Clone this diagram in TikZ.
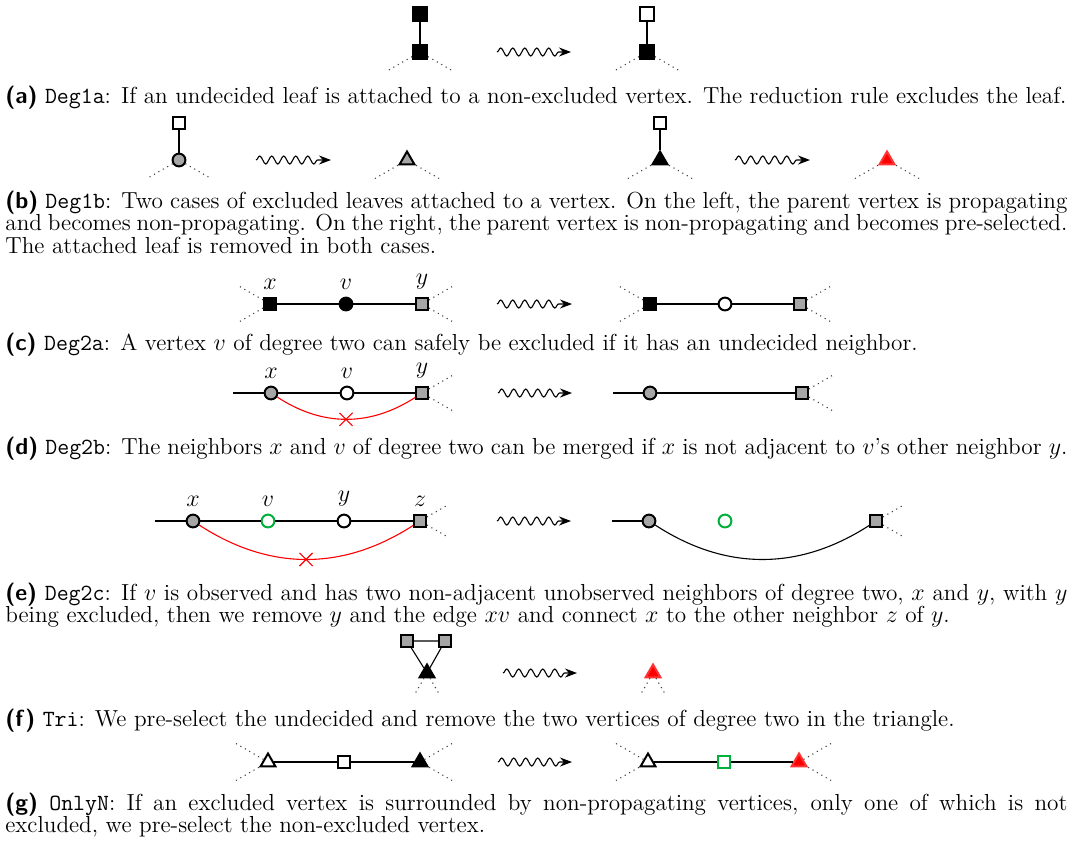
\documentclass[tikz,border=0pt]{standalone}
\usetikzlibrary{shapes.geometric,shapes.misc,decorations.pathmorphing,arrows.meta}
\definecolor{selgreen}{RGB}{0,176,60}
\newcommand\figfont{\fontsize{11.6}{11.4}\selectfont}
\newcommand\rname[2]{\textsf{\bfseries (#1)} \texttt{#2}:}
\tikzset{
  vx/.style={draw,inner sep=0pt,line width=1pt},
  sq/.style={vx,rectangle,minimum size=6pt},
  ci/.style={vx,circle,minimum size=6.4pt},
  tri/.style={vx,regular polygon,regular polygon sides=3,minimum size=8.5pt},
  blk/.style={fill=black},
  gry/.style={fill=black!35},
  wht/.style={fill=white},
  grn/.style={draw=selgreen,fill=white},
  rd/.style={draw=red!80,fill=red},
  edge/.style={line width=0.55pt},
  stub/.style={dotted,black!75,line width=0.55pt},
  cut/.style={red,line width=0.55pt},
  xmark/.style={draw=red,cross out,inner sep=0pt,minimum size=6pt,line width=0.55pt},
  wave/.style={decorate,decoration={snake,amplitude=2pt,segment length=6pt,post length=5pt},
    -{Stealth[length=6pt,width=4.5pt]},line width=0.55pt},
  captext/.style={anchor=base west,text width=531pt,align=justify,inner sep=0pt,font=\figfont},
  every label/.style={font=\fontsize{12}{12}\selectfont,inner sep=0pt},
  label distance=3.5pt
}
\begin{document}
\begin{tikzpicture}[x=0.5pt,y=0.5pt]
\useasboundingbox (0,0) rectangle (1075,-842);
% (a) Deg1a
\node[sq,blk,minimum size=7pt] (a1) at (420,-14) {};
\node[sq,blk,minimum size=7pt] (a2) at (420,-52) {};
\node[sq,wht,minimum size=7pt] (a3) at (647,-14) {};
\node[sq,blk,minimum size=7pt] (a4) at (647,-52) {};
\draw[edge] (a1)--(a2) (a3)--(a4);
\foreach \n in {a2,a4}
  \foreach \a in {210,330} \draw[stub] (\n) -- ++(\a:37) coordinate (\n-\a);
\coordinate (wa1) at (497,-52); \coordinate (wa2) at (571,-52);
\draw[wave] (wa1)--(wa2);
\node[captext] (capa) at (5,-103) {\rname{a}{Deg1a} If an undecided leaf is attached to a non-excluded vertex. The reduction rule excludes the leaf.};
% (b) Deg1b
\node[sq,wht] (b1) at (179,-123) {};
\node[ci,gry] (b2) at (179,-160) {};
\node[tri,gry] (b3) at (407,-160) {};
\node[sq,wht] (b4) at (660,-123) {};
\node[tri,blk] (b5) at (660,-160) {};
\node[tri,rd] (b6) at (887,-160) {};
\draw[edge] (b1)--(b2) (b4)--(b5);
\foreach \n in {b2,b3,b5,b6}
  \foreach \a in {210,330} \draw[stub] (\n) -- ++(\a:37) coordinate (\n-\a);
\coordinate (wb1) at (256,-160); \coordinate (wb2) at (331,-160);
\coordinate (wb3) at (735,-160); \coordinate (wb4) at (810,-160);
\draw[wave] (wb1)--(wb2);
\draw[wave] (wb3)--(wb4);
\node[captext] (capb) at (5,-208) {\rname{b}{Deg1b} Two cases of excluded leaves attached to a vertex. On the left, the parent vertex is propagating\linebreak and becomes non-propagating. On the right, the parent vertex is non-propagating and becomes pre-selected.\linebreak The attached leaf is removed in both cases.};
% (c) Deg2a
\node[sq,blk,label=above:$x$] (c1) at (270,-304) {};
\node[ci,blk,label=above:$v$] (c2) at (346,-304) {};
\node[sq,gry,label=above:$y$] (c3) at (422,-304) {};
\node[sq,blk] (c4) at (650,-304) {};
\node[ci,wht] (c5) at (725,-304) {};
\node[sq,gry] (c6) at (800,-304) {};
\draw[edge] (c1)--(c2)--(c3) (c4)--(c5)--(c6);
\foreach \n in {c1,c4}
  \foreach \a in {150,210} \draw[stub] (\n) -- ++(\a:37) coordinate (\n-\a);
\foreach \n in {c3,c6}
  \foreach \a in {30,330} \draw[stub] (\n) -- ++(\a:37) coordinate (\n-\a);
\coordinate (wc1) at (497,-304); \coordinate (wc2) at (572,-304);
\draw[wave] (wc1)--(wc2);
\node[captext] (capc) at (5,-350) {\rname{c}{Deg2a} A vertex $v$ of degree two can safely be excluded if it has an undecided neighbor.};
% (d) Deg2b
\coordinate (d0) at (233,-393);
\node[ci,gry,label=above:$x$] (d1) at (271,-393) {};
\node[ci,wht,label=above:$v$] (d2) at (347,-393) {};
\node[sq,gry,label=above:$y$] (d3) at (422,-393) {};
\coordinate (d4) at (613,-393);
\node[ci,gry] (d5) at (650,-393) {};
\node[sq,gry] (d6) at (802,-393) {};
\draw[edge] (d0)--(d1)--(d2)--(d3) (d4)--(d5)--(d6);
\draw[cut] (d1) to[bend right=33] node[xmark]{} (d3);
\foreach \n in {d3,d6}
  \foreach \a in {30,330} \draw[stub] (\n) -- ++(\a:37) coordinate (\n-\a);
\coordinate (wd1) at (498,-393); \coordinate (wd2) at (572,-393);
\draw[wave] (wd1)--(wd2);
\node[captext] (capd) at (5,-454) {\rname{d}{Deg2b} The neighbors $x$ and $v$ of degree two can be merged if $x$ is not adjacent to $v$'s other neighbor $y$.};
% (e) Deg2c
\coordinate (e0) at (155,-521);
\node[ci,gry,label=above:$x$] (e1) at (193,-521) {};
\node[ci,grn,label=above:$v$] (e2) at (268,-521) {};
\node[ci,wht,label=above:$y$] (e3) at (344,-521) {};
\node[sq,gry,label=above:$z$] (e4) at (420,-521) {};
\coordinate (e5) at (612,-521);
\node[ci,gry] (e6) at (649,-521) {};
\node[ci,grn] (e7) at (725,-521) {};
\node[sq,gry] (e8) at (876,-521) {};
\draw[edge] (e0)--(e1)--(e2)--(e3)--(e4) (e5)--(e6);
\draw[cut] (e1) to[bend right=33] node[xmark]{} (e4);
\draw[edge] (e6) to[bend right=33] (e8);
\foreach \n in {e4,e8}
  \foreach \a in {30,330} \draw[stub] (\n) -- ++(\a:33) coordinate (\n-\a);
\coordinate (we1) at (497,-521); \coordinate (we2) at (571,-521);
\draw[wave] (we1)--(we2);
\node[captext] (cape) at (5,-600) {\rname{e}{Deg2c} If $v$ is observed and has two non-adjacent unobserved neighbors of degree two, $x$ and $y$, with $y$\linebreak being excluded, then we remove $y$ and the edge $xv$ and connect $x$ to the other neighbor $z$ of $y$.};
% (f) Tri
\node[sq,gry] (f1) at (407,-641) {};
\node[sq,gry] (f2) at (445,-641) {};
\node[tri,blk] (f3) at (427,-673) {};
\node[tri,rd] (f4) at (653,-673) {};
\draw[edge] (f1)--(f2)--(f3)--(f1);
\foreach \n in {f3,f4}
  \foreach \a in {240,300} \draw[stub] (\n) -- ++(\a:25) coordinate (\n-\a);
\coordinate (wf1) at (503,-673); \coordinate (wf2) at (577,-673);
\draw[wave] (wf1)--(wf2);
\node[captext] (capf) at (5,-726) {\rname{f}{Tri} We pre-select the undecided and remove the two vertices of degree two in the triangle.};
% (g) OnlyN
\node[tri,wht] (g1) at (268,-762) {};
\node[sq,wht] (g2) at (344,-762) {};
\node[tri,blk] (g3) at (420,-762) {};
\node[tri,wht] (g4) at (648,-762) {};
\node[sq,grn] (g5) at (724,-762) {};
\node[tri,rd] (g6) at (799,-762) {};
\draw[edge] (g1)--(g2)--(g3) (g4)--(g5)--(g6);
\foreach \n in {g1,g4}
  \foreach \a in {150,210} \draw[stub] (\n) -- ++(\a:37) coordinate (\n-\a);
\foreach \n in {g3,g6}
  \foreach \a in {30,330} \draw[stub] (\n) -- ++(\a:37) coordinate (\n-\a);
\coordinate (wg1) at (498,-762); \coordinate (wg2) at (572,-762);
\draw[wave] (wg1)--(wg2);
\node[captext] (capg) at (5,-810) {\rname{g}{OnlyN} If an excluded vertex is surrounded by non-propagating vertices, only one of which is not\linebreak excluded, we pre-select the non-excluded vertex.};
\end{tikzpicture}
\end{document}
